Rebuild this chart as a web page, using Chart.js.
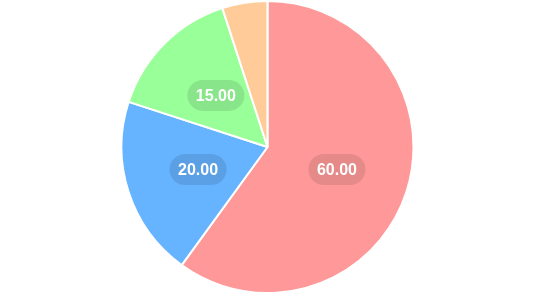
<!DOCTYPE html>
<html>
<head>
<meta charset="utf-8">
<script src="https://cdn.jsdelivr.net/npm/chart.js@4/dist/chart.umd.min.js"></script>
<style>
  html, body { margin: 0; padding: 0; background: #fff; }
  .wrap { position: relative; width: 535px; height: 294px; }
</style>
</head>
<body>
<div class="wrap"><canvas id="pie"></canvas></div>
<script>
const labels = ["A", "B", "C", "D"];
const values = [60, 20, 15, 5];
const colors = ["#ff9999", "#66b3ff", "#99ff99", "#ffcc99"];

// draws the value in a rounded pill at the middle of each slice (skips tiny ones)
const sliceLabels = {
  id: "sliceLabels",
  afterDatasetsDraw(chart) {
    const ctx = chart.ctx;
    const meta = chart.getDatasetMeta(0);
    ctx.save();
    ctx.font = "bold 16px 'Liberation Sans', Arial, sans-serif";
    ctx.textAlign = "center";
    ctx.textBaseline = "middle";
    meta.data.forEach((arc, i) => {
      const v = values[i];
      if (v < 10) return;
      const p = arc.getCenterPoint();
      const text = v.toFixed(2);
      const w = ctx.measureText(text).width + 17;
      const h = 31;
      ctx.fillStyle = "rgba(0,0,0,0.1)";
      ctx.beginPath();
      ctx.roundRect(p.x - w / 2, p.y - h / 2, w, h, h / 2);
      ctx.fill();
      ctx.fillStyle = "#ffffff";
      ctx.fillText(text, p.x, p.y + 1);
    });
    ctx.restore();
  }
};

new Chart(document.getElementById("pie"), {
  type: "pie",
  data: {
    labels: labels,
    datasets: [{
      data: values,
      backgroundColor: colors,
      borderColor: "#ffffff",
      borderWidth: 2
    }]
  },
  options: {
    responsive: true,
    maintainAspectRatio: false,
    animation: false,
    plugins: {
      legend: { display: false },
      tooltip: { enabled: false }
    }
  },
  plugins: [sliceLabels]
});
</script>
</body>
</html>
